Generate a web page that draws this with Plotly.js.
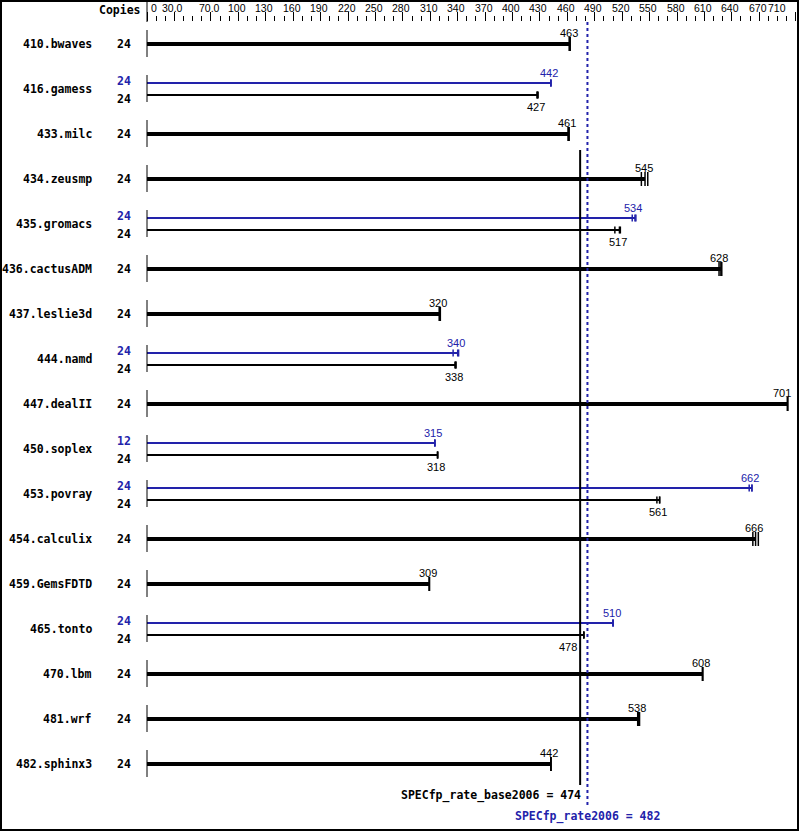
<!DOCTYPE html>
<html><head><meta charset="utf-8">
<script src="https://cdn.plot.ly/plotly-3.0.1.min.js"></script>
<style>html,body{margin:0;padding:0;background:#fff}#chart{width:799px;height:831px}</style>
</head><body><div id="chart"></div>
<script>
const benchmarks = ['410.bwaves','416.gamess','433.milc','434.zeusmp','435.gromacs','436.cactusADM','437.leslie3d','444.namd','447.dealII','450.soplex','453.povray','454.calculix','459.GemsFDTD','465.tonto','470.lbm','481.wrf','482.sphinx3'];
const baseCopies = [24,24,24,24,24,24,24,24,24,24,24,24,24,24,24,24,24];
const peakCopies = [null,24,null,null,24,null,null,24,null,12,24,null,null,24,null,null,null];
const baseRatio = [463,427,461,545,517,628,320,338,701,318,561,666,309,478,608,538,442];
const peakRatio = [null,442,null,null,534,null,null,340,null,315,662,null,null,510,null,null,null];
const baseRuns = [[462,463,463],[427,427,428],[461,461,462],[541,545,548],[512,517,518],[626,628,629],[320,320,321],[337,338,338],[701,701,701],[318,318,318],[558,561,561],[663,666,669],[309,309,309],[478,478,478],[608,608,608],[537,538,539],[442,442,442]];
const peakRuns = [null,[442,442,442],null,null,[531,534,535],null,null,[335,340,341],null,[315,315,315],[659,662,662],null,null,[510,510,510],null,null,null];
const baseMean = 474;
const peakMean = 482;
const tickValues = [0,30,70,100,130,160,190,220,250,280,310,340,370,400,430,460,490,520,550,580,610,640,670,710];
const tickLabels = ['0','30.0','70.0','100','130','160','190','220','250','280','310','340','370','400','430','460','490','520','550','580','610','640','670','710'];

// layout geometry (pixels)
const W = 799, H = 831, ML = 146, MR = 1, MT = 22, MB = 0;
const PW = W - ML - MR, PH = H - MT - MB;
const SCALE = 0.9138; // px per unit
const xr0 = -(147 - ML) / SCALE;
const xr1 = xr0 + PW / SCALE;
const ROW0 = 44, ROWH = 45;
const yOf = p => (p - ROW0) / ROWH;           // pixel -> row units
const yr = [yOf(H - MB), yOf(MT)];
const px = x => (x - ML) / PW;                // pixel -> paper x
const py = y => (H - MB - y) / PH;            // pixel -> paper y
const xpix = v => 147 + v * SCALE;            // value -> pixel (for label collision only)

const BLUE = '#2222aa', BLACK = '#000000';
const mono = {family: 'DejaVu Sans Mono, Liberation Mono, monospace', size: 11.5, color: BLACK, weight: 'bold'};
const sans = {family: 'Liberation Sans, Arial, sans-serif', size: 11, color: BLACK};
const tickFont = {family: 'Liberation Sans, Arial, sans-serif', size: 10.5, color: BLACK};

const traces = [], annotations = [], shapes = [];
const dOff = 6 / ROWH;

function addBar(val, runs, y, color, thick, label, labelShift) {
  traces.push({x: [0, val], y: [y, y], mode: 'lines', line: {color: color, width: thick ? 4 : 2}, hoverinfo: 'skip', showlegend: false});
  traces.push({x: runs, y: runs.map(() => y), mode: 'markers', hoverinfo: 'skip', showlegend: false,
    marker: {symbol: 'line-ns', size: thick ? 10 : 5, color: color, line: {color: color, width: 1.5}}});
  // label placement: centred on the bar end, nudged left off the mean line / right frame
  const txt = String(label);
  const w = txt.length * 6.1;
  let c = xpix(val) - 1.5;
  const linePx = xpix(baseMean);
  if (c + w / 2 > 791) c = 791 - w / 2;
  if (c - w / 2 < linePx + 2 && c + w / 2 > linePx - 2) c = linePx - 3 - w / 2;
  annotations.push({x: val, y: y, xref: 'x', yref: 'y', text: txt, showarrow: false,
    xanchor: 'center', yanchor: 'middle', xshift: c - xpix(val), yshift: labelShift, font: Object.assign({}, sans, {color: color})});
}

benchmarks.forEach((name, i) => {
  const yc = i;
  annotations.push({x: px(94), xref: 'paper', y: yc, yref: 'y', text: name, showarrow: false, xanchor: 'right', yanchor: 'middle', font: mono});
  shapes.push({type: 'line', xref: 'x', yref: 'y', x0: 0, x1: 0, y0: yc - 14 / ROWH, y1: yc + 13 / ROWH, line: {color: BLACK, width: 1}});
  if (peakRatio[i] !== null) {
    addBar(peakRatio[i], peakRuns[i], yc - dOff, BLUE, false, peakRatio[i], 10);
    addBar(baseRatio[i], baseRuns[i], yc + dOff, BLACK, false, baseRatio[i], -11.5);
    annotations.push({x: px(133), xref: 'paper', y: yc, yref: 'y', text: String(peakCopies[i]), showarrow: false, xanchor: 'right', yanchor: 'middle', yshift: 8, font: Object.assign({}, mono, {color: BLUE})});
    annotations.push({x: px(133), xref: 'paper', y: yc, yref: 'y', text: String(baseCopies[i]), showarrow: false, xanchor: 'right', yanchor: 'middle', yshift: -10, font: mono});
  } else {
    addBar(baseRatio[i], baseRuns[i], yc, BLACK, true, baseRatio[i], 11.5);
    annotations.push({x: px(133), xref: 'paper', y: yc, yref: 'y', text: String(baseCopies[i]), showarrow: false, xanchor: 'right', yanchor: 'middle', font: mono});
  }
});

// mean lines
shapes.push({type: 'line', xref: 'x', yref: 'y', x0: baseMean, x1: baseMean, y0: yOf(150), y1: yOf(785), line: {color: BLACK, width: 2}});
shapes.push({type: 'line', xref: 'x', yref: 'y', x0: peakMean, x1: peakMean, y0: yOf(22), y1: yOf(807), line: {color: BLUE, width: 2, dash: 'dot'}});
annotations.push({x: baseMean, xref: 'x', y: yOf(795), yref: 'y', text: 'SPECfp_rate_base2006 = ' + baseMean, showarrow: false, xanchor: 'right', yanchor: 'middle', xshift: 3, font: mono});
annotations.push({x: peakMean, xref: 'x', y: yOf(816.5), yref: 'y', text: 'SPECfp_rate2006 = ' + peakMean, showarrow: false, xanchor: 'center', yanchor: 'middle', font: Object.assign({}, mono, {color: BLUE})});

// header
annotations.push({x: px(143), xref: 'paper', y: py(10), yref: 'paper', text: 'Copies', showarrow: false, xanchor: 'right', yanchor: 'middle', font: mono});
tickValues.forEach((v, k) => {
  const last = k === tickValues.length - 1;
  annotations.push({
    x: (k === 0) ? px(149) : (last ? px(788) : v),
    xref: (k === 0 || last) ? 'paper' : 'x',
    y: py(8), yref: 'paper', text: tickLabels[k], showarrow: false,
    xanchor: k === 0 ? 'left' : (last ? 'right' : 'center'), yanchor: 'middle',
    xshift: (k === 0 || last) ? 0 : -1.5, font: tickFont});
});
shapes.push({type: 'line', xref: 'paper', yref: 'paper', x0: px(147), x1: px(147), y0: py(0), y1: py(22), line: {color: BLACK, width: 1}});
// frame
shapes.push({type: 'rect', xref: 'paper', yref: 'paper', x0: px(1), x1: px(798), y0: py(1), y1: py(830), line: {color: BLACK, width: 2}});

const layout = {
  width: W, height: H,
  margin: {l: ML, r: MR, t: MT, b: MB, pad: 0},
  paper_bgcolor: '#ffffff', plot_bgcolor: '#ffffff',
  showlegend: false,
  xaxis: {range: [xr0, xr1], side: 'top', showgrid: false, zeroline: false, showline: false,
    tickmode: 'array', tickvals: tickValues, showticklabels: false,
    ticks: 'outside', ticklen: 9, tickwidth: 1, tickcolor: BLACK,
    minor: {dtick: 10, tick0: 0, ticks: 'outside', ticklen: 5, tickwidth: 1, tickcolor: BLACK, showgrid: false},
    fixedrange: true},
  yaxis: {range: yr, visible: false, showgrid: false, zeroline: false, fixedrange: true},
  shapes: shapes,
  annotations: annotations
};

Plotly.newPlot('chart', traces, layout, {staticPlot: true, displayModeBar: false});
</script></body></html>
